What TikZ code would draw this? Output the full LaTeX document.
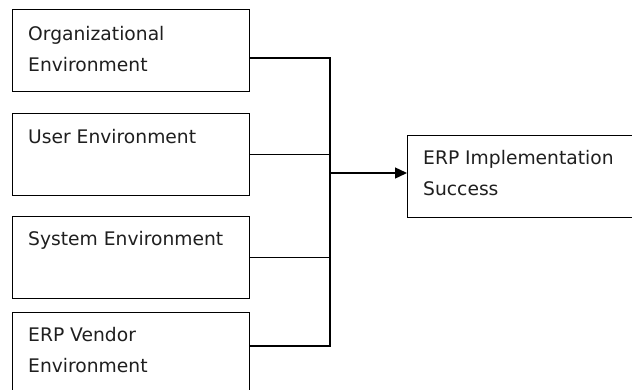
\documentclass[tikz,border=0pt]{standalone}
\usepackage{fontspec}
\setmainfont{DejaVu Sans}
\usetikzlibrary{arrows.meta,calc}
\begin{document}
\begin{tikzpicture}[x=1pt,y=-1pt,
  envbox/.style={draw=black, line width=1.4pt, rectangle, anchor=north west, inner sep=0pt,
    minimum width=237pt, minimum height=82pt},
  envtext/.style={anchor=north west, inner sep=0pt, align=left, text=black!88,
    font=\fontsize{18.7}{31}\selectfont},
  conn/.style={draw=black, line width=1.4pt},
]
\useasboundingbox[fill=white] (0,0) rectangle (632,389);
\clip (0,0) rectangle (632,389);
% boxes
\node[envbox] (org)  at (12,9)   {};
\node[envbox] (user) at (12,113) {};
\node[envbox] (sys)  at (12,216) {};
\node[envbox] (erp)  at (12,312) {};
\node[envbox] (succ) at (407,135) {};
% texts
\node[envtext] (torg)  at ($(org.north west)+(16,16)$)  {\rule{0pt}{15pt}Organizational\\Environment};
\node[envtext] (tuser) at ($(user.north west)+(16,15)$) {\rule{0pt}{15pt}User Environment};
\node[envtext] (tsys)  at ($(sys.north west)+(16,14)$)  {\rule{0pt}{15pt}System Environment};
\node[envtext] (terp)  at ($(erp.north west)+(16,14)$)  {\rule{0pt}{15pt}ERP Vendor\\Environment};
\node[envtext] (tsucc) at ($(succ.north west)+(16,14)$) {\rule{0pt}{15pt}ERP Implementation\\Success};
% connectors
\coordinate (j) at (330,173);
\coordinate (u2) at (331,154);
\draw[conn] ([yshift=-49pt]org.north east) -| (j);
\draw[conn] (user.east) -- (user.east -| u2);
\draw[conn] (sys.east) -- (sys.east -| j);
\draw[conn] ([yshift=-34pt]erp.north east) -| (j);
\draw[conn, -{Triangle[length=12pt,width=11pt]}] (j) -- (j -| succ.west);
\end{tikzpicture}
\end{document}
